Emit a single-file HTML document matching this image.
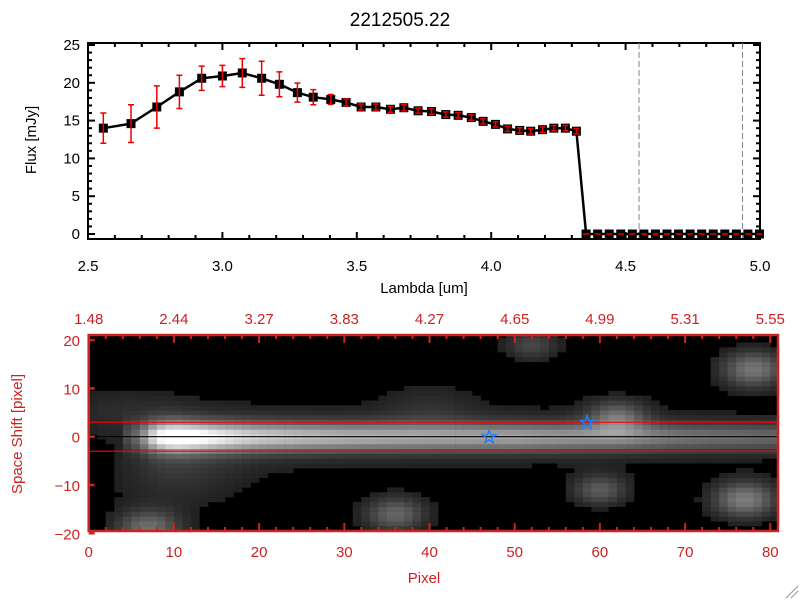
<!DOCTYPE html>
<html><head><meta charset="utf-8"><style>
html,body{margin:0;padding:0;background:#fff;width:800px;height:600px;overflow:hidden}
svg{display:block}
text{font-family:"Liberation Sans",sans-serif}
</style></head><body>
<svg id="c" width="800" height="600" xmlns="http://www.w3.org/2000/svg"></svg>
<script>
// ---- Top spectrum data ----
const lambdaVals = [2.557,2.66,2.756,2.84,2.923,3.0,3.074,3.146,3.212,3.279,3.338,3.403,3.46,3.516,3.571,3.625,3.675,3.728,3.778,3.831,3.877,3.926,3.97,4.016,4.061,4.106,4.147,4.191,4.233,4.276,4.317];
const fluxVals = [14.0,14.6,16.8,18.8,20.6,20.9,21.3,20.6,19.8,18.7,18.1,17.8,17.4,16.8,16.8,16.5,16.7,16.3,16.2,15.8,15.7,15.4,14.9,14.5,13.9,13.7,13.6,13.8,14.0,14.0,13.6];
const fluxErr = [2.0,2.5,2.8,2.2,1.6,1.4,1.9,2.25,1.65,1.25,1.0,0.65,0.45,0.4,0.4,0.4,0.4,0.35,0.35,0.35,0.35,0.35,0.35,0.35,0.35,0.35,0.35,0.35,0.35,0.35,0.35];
const zeroLambda = [4.353,4.396,4.439,4.482,4.525,4.568,4.611,4.654,4.697,4.74,4.783,4.826,4.869,4.912,4.955,4.998];
const xTicksTop = [2.5,3.0,3.5,4.0,4.5,5.0];
const xTickLabelsTop = ["2.5","3.0","3.5","4.0","4.5","5.0"];
const yTicksTop = [0,5,10,15,20,25];
const dashedLambda = [4.55,4.935];
// ---- Bottom image data ----
const pixTicks = [0,10,20,30,40,50,60,70,80];
const waveLabels = ["1.48","2.44","3.27","3.83","4.27","4.65","4.99","5.31","5.55"];
const shiftTicks = [20,10,0,-10,-20];
const traceX = [4,6,8,10,12,14,17,20,25,30,40,50,60,70,81];
const traceAmp = [0.1,0.3,0.8,1.0,0.95,0.85,0.75,0.68,0.62,0.58,0.52,0.52,0.45,0.35,0.3];
const blobX = [52,78,77,60,36,7,62,10,3,40];
const blobY = [19,14,-13,-11,-16,-19,4,-8,5,6];
const blobAmp = [0.22,0.42,0.45,0.3,0.35,0.38,0.35,0.1,0.1,0.08];
const blobSig = [2.2,2.6,2.6,2.2,2.5,2.6,2.4,6,4,4];
const starPix = [47,58.5];
const starShift = [0,3];
const cutLines = [3,-3];

const S=document.getElementById('c');const NS='http://www.w3.org/2000/svg';
function el(t,a,p){const e=document.createElementNS(NS,t);for(const k in a)e.setAttribute(k,a[k]);(p||S).appendChild(e);return e;}
const RED='#cc2222';
const X0=88,X1=760,Y0=234,Ytop=43;
const tx=l=>X0+(l-2.5)/2.5*(X1-X0);
const ty=v=>Y0-v*(Y0-45)/25;
let t=el('text',{x:400,y:26,'font-size':19,'text-anchor':'middle'});t.textContent='2212505.22';


const gTop=el('g',{});


el('rect',{x:X0,y:Ytop,width:X1-X0,height:239-Ytop,fill:'none',stroke:'#000','stroke-width':2},gTop);
dashedLambda.forEach(l=>{const d=el('line',{x1:tx(l),x2:tx(l),y1:Ytop,y2:239,stroke:'#888','stroke-dasharray':'6,3'},gTop);

});
xTicksTop.forEach((l,i)=>{el('line',{x1:tx(l),x2:tx(l),y1:239,y2:232,stroke:'#000','stroke-width':2},gTop);el('line',{x1:tx(l),x2:tx(l),y1:Ytop,y2:Ytop+7,stroke:'#000','stroke-width':2},gTop);
 const tt=el('text',{x:tx(l),y:271,'font-size':15,'text-anchor':'middle'},gTop);tt.textContent=xTickLabelsTop[i];
 
 
 if(i<5)for(let k=1;k<5;k++){const m=l+k*0.1;el('line',{x1:tx(m),x2:tx(m),y1:239,y2:235,stroke:'#000','stroke-width':2},gTop);el('line',{x1:tx(m),x2:tx(m),y1:Ytop,y2:Ytop+4,stroke:'#000','stroke-width':2},gTop);}});
yTicksTop.forEach(v=>{el('line',{x1:X0,x2:X0+7,y1:ty(v),y2:ty(v),stroke:'#000','stroke-width':2},gTop);el('line',{x1:X1,x2:X1-7,y1:ty(v),y2:ty(v),stroke:'#000','stroke-width':2},gTop);
 const tt=el('text',{x:80,y:ty(v)+5,'font-size':15,'text-anchor':'end'},gTop);tt.textContent=v;
 
 
 if(v<25)for(let k=1;k<5;k++){const m=v+k;el('line',{x1:X0,x2:X0+4,y1:ty(m),y2:ty(m),stroke:'#000','stroke-width':2},gTop);el('line',{x1:X1,x2:X1-4,y1:ty(m),y2:ty(m),stroke:'#000','stroke-width':2},gTop);}});
t=el('text',{x:424,y:293,'font-size':15,'text-anchor':'middle'});t.textContent='Lambda [um]';


t=el('text',{x:0,y:0,'font-size':15,'text-anchor':'middle',transform:'translate(36,140) rotate(-90)'});t.textContent='Flux [mJy]';


const allL=lambdaVals.concat(zeroLambda),allF=fluxVals.concat(zeroLambda.map(()=>0));
let pd=allL.map((l,i)=>(i?'L':'M')+tx(l).toFixed(1)+','+ty(allF[i]).toFixed(1)).join(' ');
const ln=el('path',{d:pd,fill:'none',stroke:'#000','stroke-width':2.5},gTop);


allL.forEach((l,i)=>{const p=el('rect',{x:tx(l)-4.5,y:ty(allF[i])-4.5,width:9,height:9,fill:'#000'},gTop);

});
lambdaVals.forEach((l,i)=>{const x=tx(l),a=ty(fluxVals[i]+fluxErr[i]),b=ty(fluxVals[i]-fluxErr[i]);const g=el('path',{d:`M${x},${a}V${b}M${x-3},${a}h6M${x-3},${b}h6`,stroke:'#e00',fill:'none','stroke-width':1.5},gTop);

});
zeroLambda.forEach(l=>{el('line',{x1:tx(l)-3,x2:tx(l)+3,y1:ty(0),y2:ty(0),stroke:'#e00','stroke-width':1.5},gTop);});
// bottom
const BX0=88.7,PX=8.52,BY0=436.7,PY=4.83;
const px=p=>BX0+p*PX, py=s=>BY0-s*PY;
const gB=el('g',{});


const imgTop=335,imgBot=531,imgRight=778;
el('rect',{x:BX0,y:imgTop,width:imgRight-BX0,height:imgBot-imgTop,fill:'#000'},gB);
function interp(x){if(x<traceX[0])return 0;for(let i=1;i<traceX.length;i++)if(x<=traceX[i]){const f=(x-traceX[i-1])/(traceX[i]-traceX[i-1]);return traceAmp[i-1]+f*(traceAmp[i]-traceAmp[i-1]);}return traceAmp[traceAmp.length-1];}
const gI=el('g',{},gB);


for(let c=0;c<81;c++)for(let r=-21;r<=21;r++){const xc=c+0.5;const a=interp(xc);let v=a*Math.exp(-r*r/(2*2.0*2.0))+0.18*a*Math.exp(-r*r/(2*5*5));
 for(let b=0;b<blobX.length;b++){const dx=xc-blobX[b],dy=r-blobY[b];v+=blobAmp[b]*Math.exp(-(dx*dx+dy*dy)/(2*blobSig[b]*blobSig[b]));}
 if(v<0.05)continue;v=Math.min(1,v);const g=Math.round(20+v*235);
 const y1=Math.max(imgTop,py(r+0.5)),y2=Math.min(imgBot,py(r-0.5));
 if(y2<=y1)continue;
 el('rect',{x:px(c).toFixed(1),y:y1.toFixed(1),width:(PX+0.3).toFixed(1),height:(y2-y1+0.3).toFixed(1),fill:`rgb(${g},${g},${g})`},gI);}
el('line',{x1:BX0,x2:imgRight,y1:py(0),y2:py(0),stroke:'#000','stroke-width':1.2},gB);
cutLines.forEach(s=>{const l=el('line',{x1:BX0,x2:imgRight,y1:py(s),y2:py(s),stroke:'#f00','stroke-width':1.2},gB);

});
starPix.forEach((p,i)=>{const s=el('text',{x:px(p),y:py(starShift[i])+7,'font-size':20,'font-weight':'bold','text-anchor':'middle',fill:'#1e7fff'},gB);s.textContent='☆';

});
el('rect',{x:BX0,y:imgTop,width:imgRight-BX0,height:imgBot-imgTop,fill:'none',stroke:RED,'stroke-width':2.5},gB);
for(let p=0;p<=81;p+=2){const h=(p%10===0)?8:4;el('line',{x1:px(p),x2:px(p),y1:imgBot,y2:imgBot-h,stroke:RED,'stroke-width':2},gB);el('line',{x1:px(p),x2:px(p),y1:imgTop,y2:imgTop+h,stroke:RED,'stroke-width':2},gB);}
pixTicks.forEach((p,i)=>{let tt=el('text',{x:px(p),y:557,'font-size':15,'text-anchor':'middle',fill:RED},gB);tt.textContent=p;
 
 
 tt=el('text',{x:px(p),y:324,'font-size':15,'text-anchor':'middle',fill:RED},gB);tt.textContent=waveLabels[i];
 
 });
shiftTicks.forEach(s=>{el('line',{x1:BX0,x2:BX0+6,y1:py(s),y2:py(s),stroke:RED,'stroke-width':2.5},gB);let tt=el('text',{x:80,y:py(s)+6,'font-size':15,'text-anchor':'end',fill:RED},gB);tt.textContent=(s<0?'\u2212':'')+Math.abs(s);
 
 });
t=el('text',{x:424,y:583,'font-size':15,'text-anchor':'middle',fill:RED});t.textContent='Pixel';


t=el('text',{x:0,y:0,'font-size':15,'text-anchor':'middle',fill:RED,transform:'translate(22,434) rotate(-90)'});t.textContent='Space Shift [pixel]';


el('path',{d:'M786,598L798,586M791,598L798,591',stroke:'#999','stroke-width':1});
</script>
</body></html>
